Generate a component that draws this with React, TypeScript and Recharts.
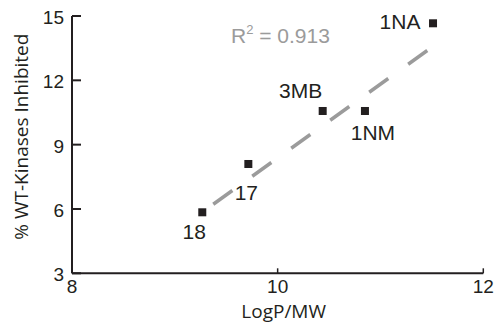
import { ScatterChart, Scatter, XAxis, YAxis, ReferenceLine, ReferenceDot, Label } from 'recharts';

// compounds, LogP/MW vs % of WT kinases inhibited
const compounds = ['18', '17', '3MB', '1NM', '1NA'];
const logPMW = [9.267, 9.715, 10.438, 10.849, 11.511];
const pctInhibited = [5.845, 8.098, 10.57, 10.57, 14.66];

// fitted trend line end points
const trendX = [9.374, 11.462];
const trendY = [6.22, 13.415];
const rSquared = '0.913';

const xTicks = [8, 10, 12];
const yTicks = [3, 6, 9, 12, 15];

const points = compounds.map((name, i) => ({ name, x: logPMW[i], y: pctInhibited[i] }));

const ink = '#231f20';
const grey = '#9b9b9b';
const numFont = '"Liberation Sans", Arial, sans-serif';
const titleFont = '"Open Sans", sans-serif';

// label placement relative to each marker (text centre, baseline)
const labelPos: Record<string, [number, number]> = {
  '18': [-8, 27],
  '17': [-2, 36],
  '3MB': [-22, -13],
  '1NM': [8, 29],
  '1NA': [-33, 6],
};

const Marker = (props: any) => {
  const { cx, cy, payload } = props;
  const [dx, dy] = labelPos[payload.name] || [0, 0];
  return (
    <g>
      <rect x={cx - 4} y={cy - 4} width={8} height={8} fill={ink} />
      <text x={cx + dx} y={cy + dy} textAnchor="middle" fontFamily={numFont} fontSize={21} fill={ink}>
        {payload.name}
      </text>
    </g>
  );
};

const YTick = ({ x, y, payload }: any) => (
  <g>
    <line x1={x} x2={x + 9} y1={y} y2={y} stroke={ink} strokeWidth={2} />
    <text x={x - 8} y={y + 8} textAnchor="end" fontFamily={numFont} fontSize={19} fill={ink}>
      {payload.value}
    </text>
  </g>
);

const XTick = ({ x, y, payload }: any) => (
  <g>
    <line x1={x} x2={x} y1={y} y2={y - 5} stroke={ink} strokeWidth={1.5} />
    <text x={x} y={y + 19.5} textAnchor="middle" fontFamily={numFont} fontSize={19} fill={ink}>
      {payload.value}
    </text>
  </g>
);

const R2Text = ({ cx, cy }: any) => (
  <text x={cx} y={cy} fontFamily={numFont} fontSize={21} fill={grey}>
    R
    <tspan dy={-9} fontSize={13}>2</tspan>
    <tspan dy={9}>{` = ${rSquared}`}</tspan>
  </text>
);

export default function App() {
  return (
    <div style={{ position: 'absolute', left: 0, top: 0, width: 496, height: 324, background: '#fff' }}>
      <ScatterChart width={496} height={324} margin={{ top: 16, right: 12.7, bottom: 0, left: 0 }}>
        <XAxis
          type="number"
          dataKey="x"
          domain={[8, 12]}
          ticks={xTicks}
          height={50.7}
          tickSize={0}
          tickMargin={0}
          tickLine={false}
          tick={<XTick />}
          axisLine={{ stroke: ink, strokeWidth: 2 }}
        >
          <Label
            content={(p: any) => (
              <text
                x={p.viewBox.x + p.viewBox.width / 2 + 6}
                y={p.viewBox.y + 44.4}
                textAnchor="middle"
                fontFamily={titleFont}
                fontSize={19}
                fill={ink}
              >
                LogP/MW
              </text>
            )}
          />
        </XAxis>
        <YAxis
          type="number"
          dataKey="y"
          domain={[3, 15]}
          ticks={yTicks}
          width={72}
          tickSize={0}
          tickMargin={0}
          tickLine={false}
          tick={<YTick />}
          axisLine={{ stroke: ink, strokeWidth: 2 }}
        >
          <Label
            content={(p: any) => {
              const cx = p.viewBox.x + 28;
              const cy = p.viewBox.y + p.viewBox.height / 2 - 8;
              return (
                <text
                  x={cx}
                  y={cy}
                  transform={`rotate(-90 ${cx} ${cy})`}
                  textAnchor="middle"
                  fontFamily={titleFont}
                  fontSize={19}
                  fill={ink}
                >
                  % WT-Kinases Inhibited
                </text>
              );
            }}
          />
        </YAxis>
        <ReferenceLine
          segment={[
            { x: trendX[0], y: trendY[0] },
            { x: trendX[1], y: trendY[1] },
          ]}
          stroke={grey}
          strokeWidth={3.5}
          strokeDasharray="23.5 24.5"
        />
        <ReferenceDot x={9.546} y={13.76} r={0} shape={<R2Text />} />
        <Scatter data={points} shape={<Marker />} isAnimationActive={false} />
      </ScatterChart>
    </div>
  );
}
